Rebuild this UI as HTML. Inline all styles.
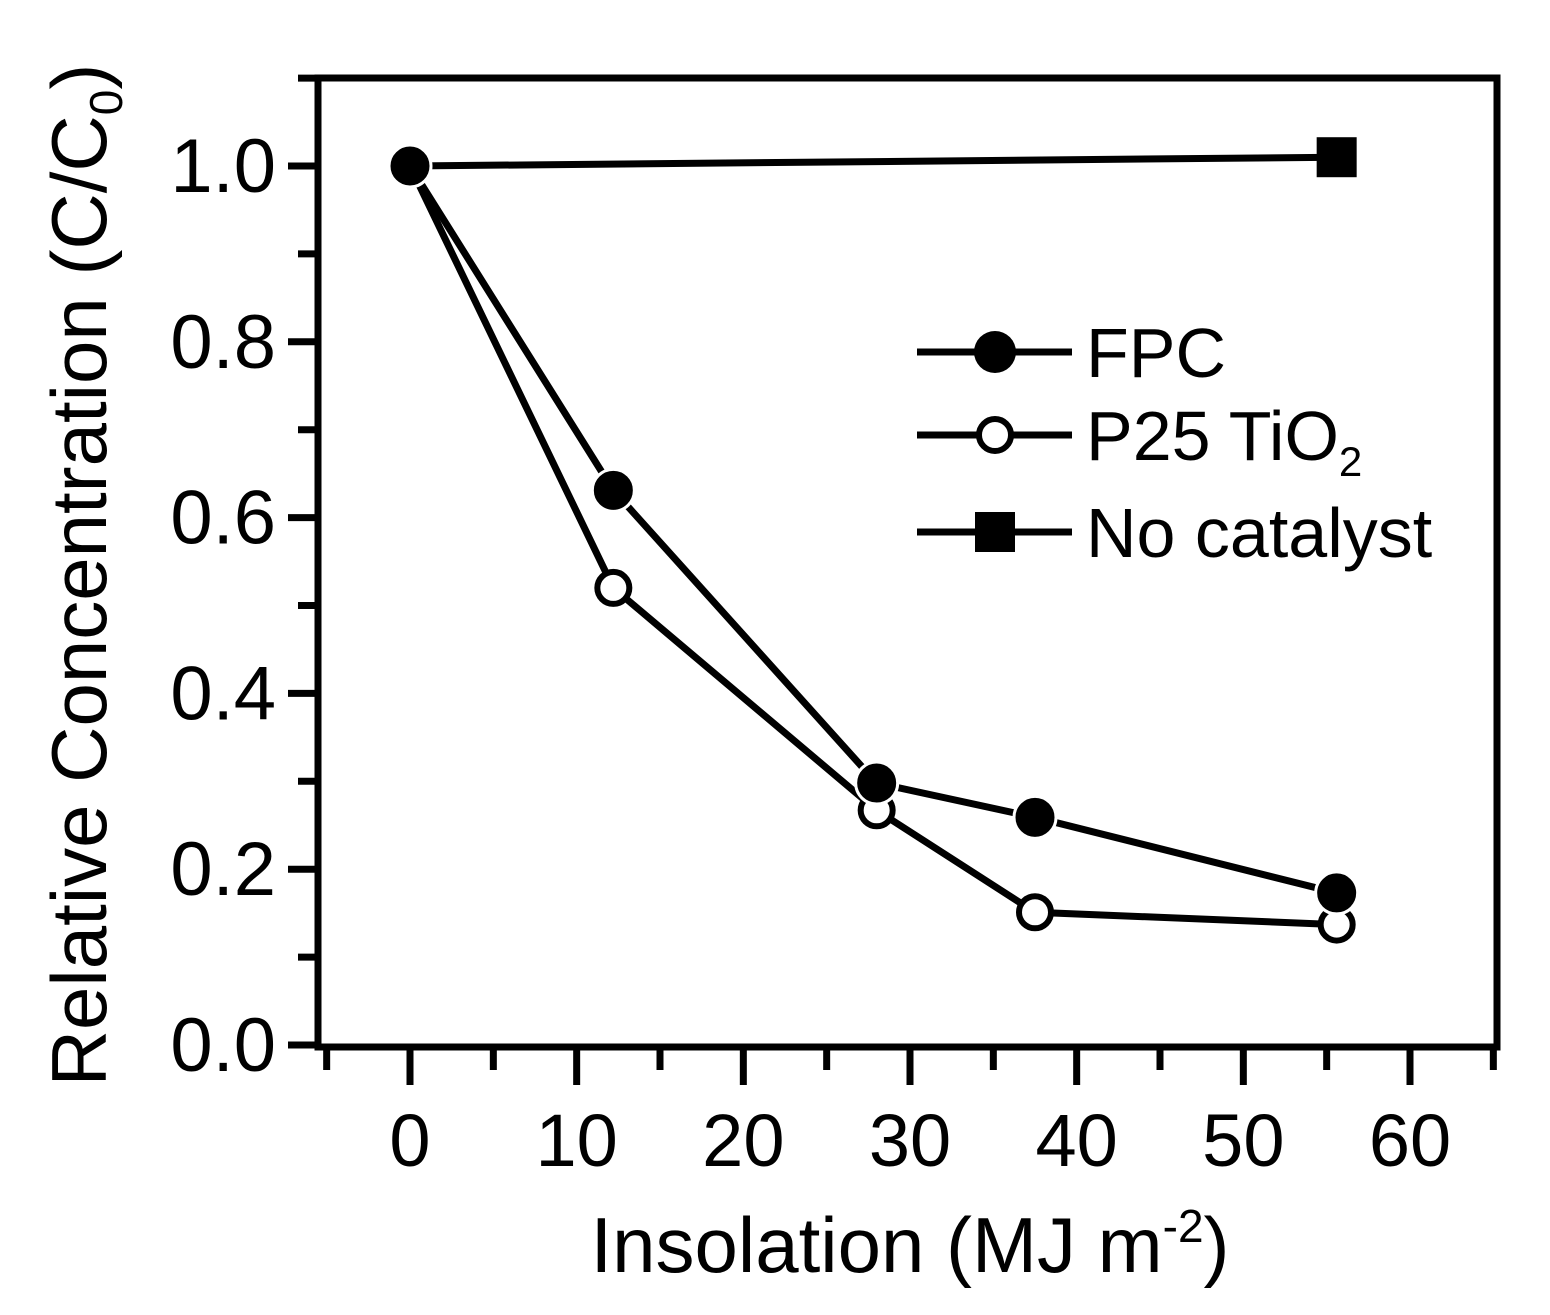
<!DOCTYPE html>
<html><head><meta charset="utf-8"><style>
html,body{margin:0;padding:0;background:#fff;}
svg{display:block;font-family:"Liberation Sans",Arial,sans-serif;}
</style></head><body>
<svg id="chart" width="1550" height="1315" viewBox="0 0 1550 1315">
<g id="axes"></g>
<g id="series"></g>
<g id="legend"></g>
</svg>
<script>
const xFPC=[0,12.2,28,37.5,55.6];
const yFPC=[1.0,0.631,0.298,0.259,0.173];
const xP25=[0,12.2,28,37.5,55.6];
const yP25=[1.0,0.52,0.267,0.151,0.137];
const xNone=[0,55.6];
const yNone=[1.0,1.01];
const xTicks=[0,10,20,30,40,50,60];
const yTicks=[0.0,0.2,0.4,0.6,0.8,1.0];
const yTickLabels=["0.0","0.2","0.4","0.6","0.8","1.0"];

const NS="http://www.w3.org/2000/svg";
const X=v=>410+v*(1000/60);
const Y=v=>1045-v*879;
function mk(tag,attrs,parent){const e=document.createElementNS(NS,tag);for(const k in attrs)e.setAttribute(k,attrs[k]);parent.appendChild(e);return e;}
const axes=document.getElementById('axes'),ser=document.getElementById('series'),leg=document.getElementById('legend');

let f=mk('rect',{x:318,y:78,width:1179,height:969,fill:'none',stroke:'#000','stroke-width':7},axes);

for(let v=-5;v<=65;v+=5){const major=v%10===0;
 let t=mk('line',{x1:X(v),x2:X(v),y1:1047,y2:major?1085:1070,stroke:'#000','stroke-width':7},axes);
 }
for(let v=0;v<=1.1;v+=0.1){const i=Math.round(v*10);const major=i%2===0;
 let t=mk('line',{x1:major?288:298,x2:318,y1:Y(i/10),y2:Y(i/10),stroke:'#000','stroke-width':7},axes);
 }
xTicks.forEach(v=>{let t=mk('text',{x:X(v),y:1166,'text-anchor':'middle','font-size':74},axes);t.textContent=v;
 });
yTicks.forEach((v,i)=>{let t=mk('text',{x:276,y:Y(v)+26,'text-anchor':'end','font-size':76},axes);t.textContent=yTickLabels[i];
 });
let xt=mk('text',{x:910,y:1272,'text-anchor':'middle','font-size':78},axes);
xt.innerHTML='Insolation (MJ m<tspan dy="-30" font-size="46">-2</tspan><tspan dy="30">)</tspan>';

let yt=mk('text',{x:0,y:0,'text-anchor':'middle','font-size':78,transform:'translate(106,575) rotate(-90)'},axes);
yt.innerHTML='Relative Concentration (C/C<tspan dy="16" font-size="46">0</tspan><tspan dy="-16">)</tspan>';


function line(xs,ys,name){let p=mk('polyline',{points:xs.map((x,i)=>X(x)+','+Y(ys[i])).join(' '),fill:'none',stroke:'#000','stroke-width':7},ser);
 }
line(xNone,yNone,'no-catalyst-line');line(xP25,yP25,'p25-line');line(xFPC,yFPC,'fpc-line');
xNone.forEach((x,i)=>{if(i===0)return;let r=mk('rect',{x:X(x)-20,y:Y(yNone[i])-20,width:40,height:40,fill:'#000'},ser);
 });
xP25.forEach((x,i)=>{let c=mk('circle',{cx:X(x),cy:Y(yP25[i]),r:16,fill:'#fff',stroke:'#000','stroke-width':6},ser);
 });
xFPC.forEach((x,i)=>{let c=mk('circle',{cx:X(x),cy:Y(yFPC[i]),r:21,fill:'#000',stroke:'#fff','stroke-width':3},ser);
 });

const legItems=[['FPC',352,'fpc'],['P25 TiO',435,'p25'],['No catalyst',532,'none']];
legItems.forEach(([lab,y,k])=>{
 let l=mk('line',{x1:917,x2:1072,y1:y,y2:y,stroke:'#000','stroke-width':7},leg);
 
 let m;
 if(k==='fpc')m=mk('circle',{cx:995,cy:y,r:21,fill:'#000'},leg);
 else if(k==='p25')m=mk('circle',{cx:995,cy:y,r:16,fill:'#fff',stroke:'#000','stroke-width':6},leg);
 else m=mk('rect',{x:975,y:y-20,width:40,height:40,fill:'#000'},leg);
 
 let t=mk('text',{x:1086,y:y+25,'font-size':70},leg);
 if(k==='p25')t.innerHTML='P25 TiO<tspan dy="16" font-size="42">2</tspan>';else t.textContent=lab;
 
});
</script>
</body></html>
